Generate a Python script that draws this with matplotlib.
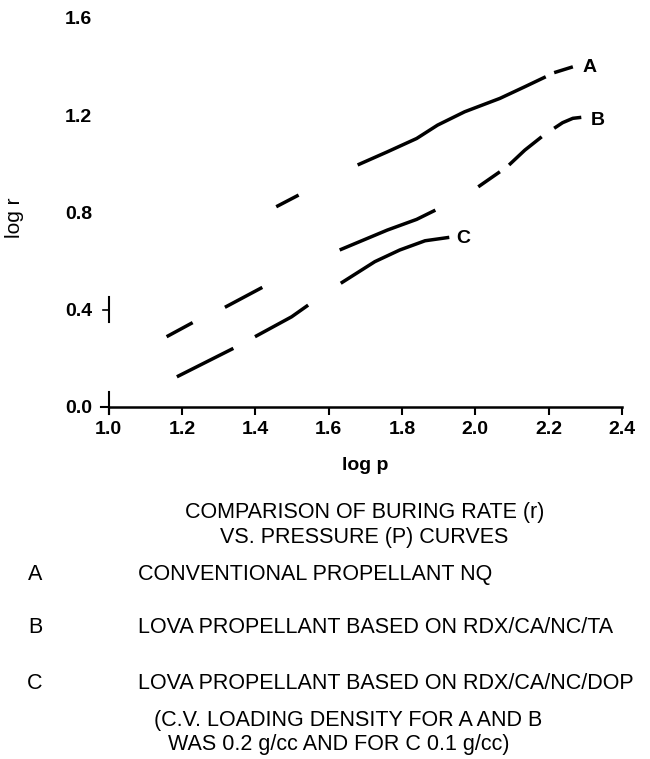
import numpy as np
import matplotlib
matplotlib.use("Agg")
import matplotlib.pyplot as plt

plt.rcParams['font.family'] = ['Liberation Sans', 'DejaVu Sans']

nan = np.nan

# curve pieces (gaps where the print faded)
a_x = [1.457, 1.518, nan, 1.679, 1.760, 1.840, 1.897, 1.971, 2.067, 2.135, 2.192, nan, 2.215, 2.266]
a_y = [0.823, 0.871, nan, 0.995, 1.049, 1.104, 1.159, 1.214, 1.269, 1.317, 1.358, nan, 1.375, 1.399]

b_x = [1.158, 1.229, nan, 1.317, 1.419, nan, 1.630, 1.760, 1.840, 1.891, nan, 2.008, 2.067,
       nan, 2.092, 2.135, 2.181, nan, 2.215, 2.238, 2.266, 2.289]
b_y = [0.288, 0.346, nan, 0.409, 0.491, nan, 0.645, 0.727, 0.771, 0.809, nan, 0.905, 0.967,
       nan, 0.995, 1.056, 1.111, nan, 1.146, 1.169, 1.187, 1.191]

c_x = [1.186, 1.340, nan, 1.399, 1.499, 1.544, nan, 1.633, 1.726, 1.794, 1.863, 1.929]
c_y = [0.123, 0.240, nan, 0.288, 0.370, 0.418, nan, 0.508, 0.597, 0.645, 0.683, 0.697]

curve_names = ['A', 'B', 'C']
label_pos = [(2.312, 1.398), (2.335, 1.180), (1.966, 0.694)]

x_ticks = [1.0, 1.2, 1.4, 1.6, 1.8, 2.0, 2.2, 2.4]
y_ticks = [0.0, 0.4, 0.8, 1.2, 1.6]

title_lines = ['COMPARISON OF BURING RATE (r)', 'VS. PRESSURE (P) CURVES']
key_letters = ['A', 'B', 'C']
key_texts = ['CONVENTIONAL PROPELLANT NQ',
             'LOVA PROPELLANT BASED ON RDX/CA/NC/TA',
             'LOVA PROPELLANT BASED ON RDX/CA/NC/DOP']
note_lines = ['(C.V. LOADING DENSITY FOR A AND B', 'WAS 0.2 g/cc AND FOR C 0.1 g/cc)']

fig = plt.figure(figsize=(6.5, 7.59), dpi=100)
ax = fig.add_axes([0.1672, 0.4642, 0.7897, 0.5121])

for xs, ys in [(a_x, a_y), (b_x, b_y), (c_x, c_y)]:
    ax.plot(xs, ys, color='black', lw=2.5, solid_capstyle='butt')

for name, (lx, ly) in zip(curve_names, label_pos):
    ax.text(lx, ly, name, fontsize=14, fontweight='bold', ha='center', va='center')

ax.set_xlim(1.0, 2.4)
ax.set_ylim(0.0, 1.6)
for s in ['top', 'right', 'left']:
    ax.spines[s].set_visible(False)
ax.spines['bottom'].set_linewidth(1.8)

ax.set_xticks(x_ticks)
ax.set_xticklabels([f'{v:.1f}' for v in x_ticks], fontsize=14, fontweight='bold')
ax.set_yticks(y_ticks)
ax.set_yticklabels([f'{v:.1f}' for v in y_ticks], fontsize=14, fontweight='bold')
ax.tick_params(axis='x', direction='out', length=6, width=1.5, pad=4)
ax.tick_params(axis='y', length=0, pad=12)

# bits of the left axis that survived in the print
ax.plot([1.0, 1.0], [-0.03, 0.06], color='black', lw=1.5, clip_on=False)
ax.plot([0.978, 1.0], [0.0, 0.0], color='black', lw=1.5, clip_on=False)
ax.plot([1.0, 1.0], [0.35, 0.45], color='black', lw=1.5, clip_on=False)
ax.plot([0.985, 1.0], [0.4, 0.4], color='black', lw=1.2, clip_on=False)

ax.set_xlabel('log p', fontsize=14, fontweight='bold', labelpad=14)
fig.text(0.022, 0.713, 'log r', rotation=90, fontsize=15, ha='center', va='center')

fig.text(0.561, 0.325, title_lines[0], fontsize=15.5, ha='center', va='center')
fig.text(0.561, 0.292, title_lines[1], fontsize=15.5, ha='center', va='center')

key_y = [0.243, 0.173, 0.100]
for letter, txt, ky in zip(key_letters, key_texts, key_y):
    fig.text(0.054, ky, letter, fontsize=15.5, ha='center', va='center')
    fig.text(0.212, ky, txt, fontsize=15.5, ha='left', va='center')

fig.text(0.237, 0.051, note_lines[0], fontsize=15.5, ha='left', va='center')
fig.text(0.259, 0.019, note_lines[1], fontsize=15.5, ha='left', va='center')

fig.savefig('out.png', dpi=100, facecolor='white')
